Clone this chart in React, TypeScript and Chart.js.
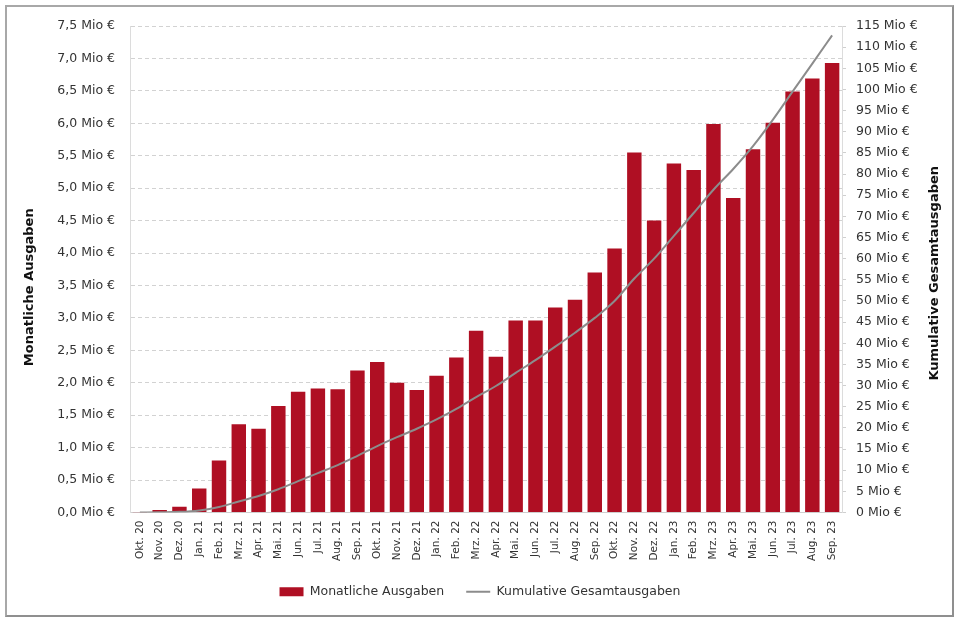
import React, { useEffect, useRef } from 'react';
import { Chart, registerables } from 'chart.js';

Chart.register(...registerables);

const categories = [
  'Okt. 20', 'Nov. 20', 'Dez. 20',
  'Jan. 21', 'Feb. 21', 'Mrz. 21', 'Apr. 21', 'Mai. 21', 'Jun. 21', 'Jul. 21', 'Aug. 21', 'Sep. 21', 'Okt. 21', 'Nov. 21', 'Dez. 21',
  'Jan. 22', 'Feb. 22', 'Mrz. 22', 'Apr. 22', 'Mai. 22', 'Jun. 22', 'Jul. 22', 'Aug. 22', 'Sep. 22', 'Okt. 22', 'Nov. 22', 'Dez. 22',
  'Jan. 23', 'Feb. 23', 'Mrz. 23', 'Apr. 23', 'Mai. 23', 'Jun. 23', 'Jul. 23', 'Aug. 23', 'Sep. 23',
];

// Monatliche Ausgaben (Mio €)
const monthlySpend = [
  0.005, 0.04, 0.09,
  0.37, 0.80, 1.36, 1.29, 1.64, 1.86, 1.91, 1.90, 2.19, 2.32, 2.00, 1.89,
  2.11, 2.39, 2.80, 2.40, 2.96, 2.96, 3.16, 3.28, 3.70, 4.07, 5.55, 4.50,
  5.38, 5.28, 5.99, 4.85, 5.60, 6.01, 6.49, 6.69, 6.93,
];

// Kumulative Gesamtausgaben (Mio €)
const cumulativeSpend = [
  0.0, 0.05, 0.15,
  0.5, 1.3, 2.6, 3.9, 5.5, 7.4, 9.3, 11.2, 13.4, 15.7, 17.8, 19.8,
  22.0, 24.5, 27.3, 29.9, 33.0, 36.0, 39.2, 42.5, 46.0, 50.0, 55.3, 60.0,
  65.4, 70.8, 76.3, 81.2, 86.6, 92.8, 99.5, 106.1, 112.8,
];

const leftAxis = { min: 0, max: 7.5, step: 0.5 };
const rightAxis = { min: 0, max: 115, step: 5 };

const seriesNames = ['Monatliche Ausgaben', 'Kumulative Gesamtausgaben'];
const leftTitle = 'Monatliche Ausgaben';
const rightTitle = 'Kumulative Gesamtausgaben';

const FONT = '"DejaVu Sans", Verdana, sans-serif';
const BAR_COLOR = '#AF0F23';
const LINE_COLOR = '#8C8C8C';

const titlesPlugin = {
  id: 'axisTitles',
  afterDraw(chart: any) {
    const { ctx, chartArea } = chart;
    const midY = (chartArea.top + chartArea.bottom) / 2;
    ctx.save();
    ctx.font = `bold 13px ${FONT}`;
    ctx.fillStyle = '#111';
    ctx.textAlign = 'center';
    ctx.textBaseline = 'middle';
    ctx.save();
    ctx.translate(chartArea.left - 100, midY + 18);
    ctx.rotate(-Math.PI / 2);
    ctx.fillText(leftTitle, 0, 0);
    ctx.restore();
    ctx.save();
    ctx.translate(chartArea.right + 93, midY + 4);
    ctx.rotate(-Math.PI / 2);
    ctx.fillText(rightTitle, 0, 0);
    ctx.restore();
    ctx.restore();
  },
};

export default function App() {
  const canvasRef = useRef<HTMLCanvasElement | null>(null);

  useEffect(() => {
    if (!canvasRef.current) return;
    Chart.defaults.font.family = FONT;
    Chart.defaults.color = '#333';
    const chart = new Chart(canvasRef.current, {
      type: 'bar',
      data: {
        labels: categories,
        datasets: [
          {
            type: 'bar',
            label: seriesNames[0],
            data: monthlySpend,
            backgroundColor: BAR_COLOR,
            borderColor: BAR_COLOR,
            borderWidth: 0,
            barPercentage: 0.73,
            categoryPercentage: 1.0,
            yAxisID: 'y',
            order: 1,
            pointStyle: 'rect',
          } as any,
          {
            type: 'line',
            label: seriesNames[1],
            data: cumulativeSpend,
            borderColor: LINE_COLOR,
            backgroundColor: LINE_COLOR,
            borderWidth: 2,
            pointRadius: 0,
            pointHoverRadius: 0,
            cubicInterpolationMode: 'monotone',
            yAxisID: 'y1',
            order: 0,
            pointStyle: 'line',
          } as any,
        ],
      },
      options: {
        responsive: false,
        animation: false,
        layout: { padding: { left: 0, right: 0, top: 26, bottom: 14 } },
        plugins: {
          legend: {
            position: 'bottom',
            labels: {
              usePointStyle: true,
              pointStyleWidth: 24,
              boxHeight: 9,
              padding: 22,
              color: '#333',
              font: { size: 12.5, family: FONT },
              sort: (a: any, b: any) => a.datasetIndex - b.datasetIndex,
            },
          },
          tooltip: { enabled: false },
        },
        scales: {
          x: {
            grid: { display: false, drawTicks: false },
            border: { display: true, color: '#cfcfcf', width: 1 },
            ticks: {
              autoSkip: false,
              minRotation: 90,
              maxRotation: 90,
              padding: 8,
              color: '#333',
              font: { size: 10.5, family: FONT },
            },
            afterFit: (scale: any) => { scale.height = 51; },
          },
          y: {
            position: 'left',
            min: leftAxis.min,
            max: leftAxis.max,
            grid: { color: '#d2d2d2', lineWidth: 1, drawTicks: false },
            border: { display: true, color: '#dcdcdc', width: 1, dash: [4, 3] },
            ticks: {
              stepSize: leftAxis.step,
              padding: 15,
              color: '#333',
              font: { size: 12.5, family: FONT },
              callback: (v: any) => Number(v).toFixed(1).replace('.', ',') + ' Mio €',
            },
            afterFit: (scale: any) => { scale.width = 130; },
          },
          y1: {
            position: 'right',
            min: rightAxis.min,
            max: rightAxis.max,
            grid: { drawOnChartArea: false, drawTicks: true, tickLength: 4, color: '#cfcfcf' },
            border: { display: true, color: '#dcdcdc', width: 1 },
            ticks: {
              stepSize: rightAxis.step,
              padding: 10,
              color: '#333',
              font: { size: 12.5, family: FONT },
              callback: (v: any) => `${v} Mio €`,
            },
            afterFit: (scale: any) => { scale.width = 118; },
          },
        },
      },
      plugins: [titlesPlugin],
    });
    return () => chart.destroy();
  }, []);

  return (
    <div style={{ position: 'fixed', left: 0, top: 0, width: 960, height: 622, background: '#fff' }}>
      <div
        style={{
          position: 'absolute',
          left: 5,
          top: 5,
          width: 949,
          height: 612,
          boxSizing: 'border-box',
          borderTop: '2px solid #a8a8a8',
          borderLeft: '2px solid #a8a8a8',
          borderRight: '2px solid #8f8f8f',
          borderBottom: '2px solid #8f8f8f',
        }}
      />
      <canvas
        ref={canvasRef}
        width={960}
        height={622}
        style={{ position: 'absolute', left: 0, top: 0, width: 960, height: 622 }}
      />
    </div>
  );
}
